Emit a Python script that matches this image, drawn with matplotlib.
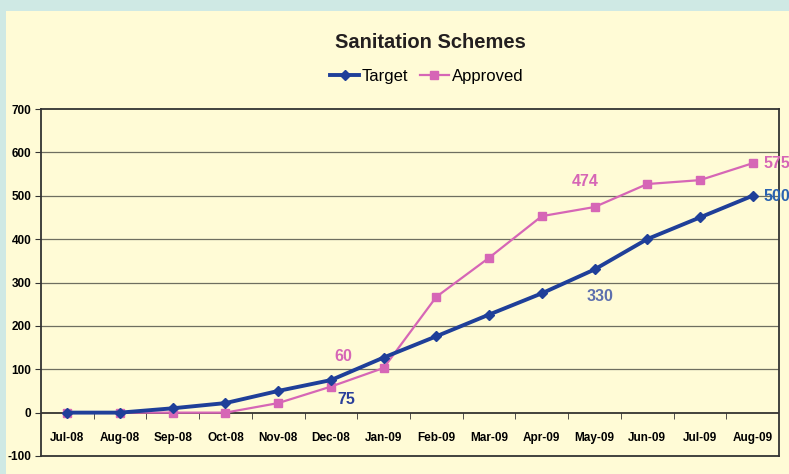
import matplotlib
matplotlib.use("Agg")
import matplotlib.pyplot as plt
from matplotlib.patches import Rectangle
from matplotlib.ticker import FixedLocator, NullLocator

months = ["Jul-08", "Aug-08", "Sep-08", "Oct-08", "Nov-08", "Dec-08", "Jan-09",
          "Feb-09", "Mar-09", "Apr-09", "May-09", "Jun-09", "Jul-09", "Aug-09"]
target = [0, 0, 10, 22, 50, 75, 127, 176, 226, 275, 330, 400, 450, 500]
approved = [0, 0, 0, 0, 22, 60, 103, 267, 357, 453, 474, 527, 536, 575]
yticks = [-100, 0, 100, 200, 300, 400, 500, 600, 700]

blue = "#1f3f99"
pink = "#d666b6"
narrow = ["Liberation Sans Narrow", "Liberation Sans", "DejaVu Sans"]

fig = plt.figure(figsize=(7.89, 4.74), dpi=100)
fig.patch.set_facecolor("#cfe9e4")
fig.patches.append(Rectangle((6 / 789, 0), 1, (474 - 11) / 474,
                             transform=fig.transFigure, facecolor="#fffbd6",
                             edgecolor="none", zorder=-5))

ax = fig.add_axes([41 / 789, 18 / 474, 738 / 789, 347 / 474])
ax.set_facecolor("#fffbd6")
x = list(range(len(months)))

ax.plot(x, target, color=blue, lw=2.8, marker="D", ms=5, zorder=4, label="Target")
ax.plot(x, approved, color=pink, lw=1.6, marker="s", ms=5.5, zorder=3, label="Approved")

ax.set_xlim(-0.5, len(months) - 0.5)
ax.set_ylim(-100, 700)
ax.set_yticks(yticks)
ax.set_yticklabels([str(v) for v in yticks], fontsize=8.5, fontweight="bold", family=narrow)
ax.tick_params(axis="y", length=4, color="#333333", pad=3)
for v in yticks[1:-1]:
    ax.axhline(v, color="#6e6e60" if v != 0 else "#222222", lw=0.9 if v != 0 else 1.2, zorder=1)
for s in ax.spines.values():
    s.set_color("#333333")
    s.set_linewidth(1.3)

ax.xaxis.set_major_locator(NullLocator())
sec = ax.secondary_xaxis(0.125)
sec.set_xticks(x)
sec.set_xticklabels(months, fontsize=8.5, fontweight="bold", family=narrow)
sec.tick_params(axis="x", which="major", length=0, pad=14)
sec.xaxis.set_minor_locator(FixedLocator([i + 0.5 for i in x[:-1]]))
sec.tick_params(axis="x", which="minor", length=4, color="#333333", direction="out")
sec.spines["bottom"].set_visible(False)

lbl = dict(fontsize=11.5, fontweight="bold", family=narrow, va="center")
ax.text(5.23, 129, "60", color=pink, ha="center", **lbl)
ax.text(5.3, 30, "75", color="#2a3f9a", ha="center", **lbl)
ax.text(9.82, 532, "474", color=pink, ha="center", **lbl)
ax.text(10.1, 267, "330", color="#5d6fae", ha="center", **lbl)
ax.text(13.2, 574, "575", color=pink, ha="left", **lbl)
ax.text(13.2, 498, "500", color="#2a62b0", ha="left", **lbl)

fig.text(430 / 789, 1 - 42 / 474, "Sanitation Schemes", fontsize=14.5, fontweight="bold",
         family=["Liberation Sans", "DejaVu Sans"], ha="center", va="center", color="#231f20")
fig.legend(loc="center", bbox_to_anchor=(427 / 789, 1 - 76 / 474), ncol=2, frameon=False,
           prop={"family": narrow, "size": 12}, handlelength=1.7, handletextpad=0.2,
           columnspacing=0.7)

fig.savefig("out.png", dpi=100, facecolor=fig.get_facecolor())
